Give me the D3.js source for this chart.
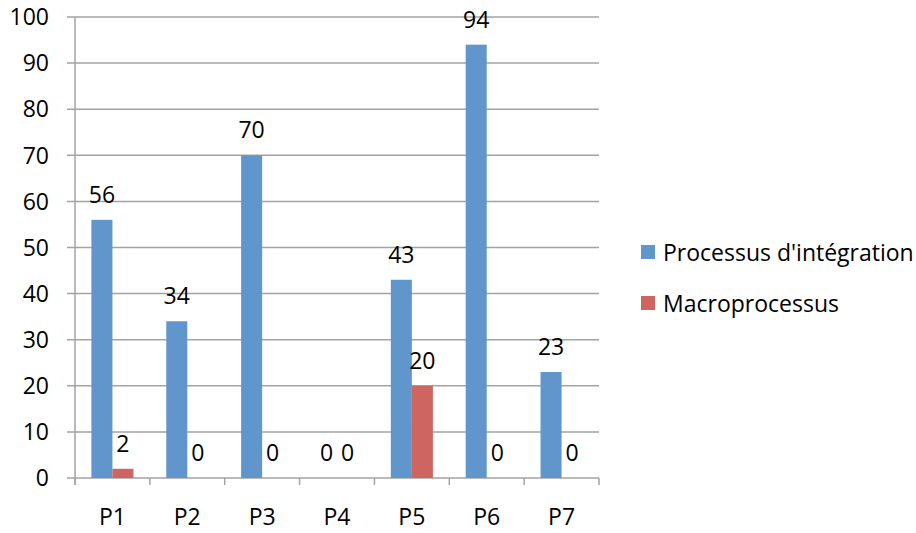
<!DOCTYPE html>
<html><head><meta charset="utf-8">
<script src="https://cdn.jsdelivr.net/npm/d3@7"></script>
<style>
body{margin:0;background:#fff;}
text{font-family:"Open Sans",sans-serif;fill:#000;}
</style></head>
<body>
<svg id="c" width="916" height="533"></svg>
<script>
const categories = ["P1","P2","P3","P4","P5","P6","P7"];
const seriesNames = ["Processus d'intégration","Macroprocessus"];
const integration = [56,34,70,0,43,94,23];
const macro = [2,0,0,0,20,0,0];
const yTicks = [0,10,20,30,40,50,60,70,80,90,100];
const colors = ["#6096CB","#CF6560"];

(function(){
const svg = d3.select("#c");
const pLeft=75, pRight=599, pTop=17, pBottom=478;
const x = d3.scaleBand().domain(categories).range([pLeft,pRight]).paddingInner(0).paddingOuter(0);
const inner = d3.scaleBand().domain([0,1]).range([0,x.bandwidth()]).paddingInner(0).paddingOuter(0.78);
const y = d3.scaleLinear().domain([0,100]).range([pBottom,pTop]);
const fs = 23;

svg.append("g").selectAll("line").data(yTicks).join("line")
  .attr("x1",pLeft-8).attr("x2",pRight).attr("y1",d=>y(d)).attr("y2",d=>y(d))
  .attr("stroke","#A3A3A3").attr("stroke-width",1.5);
svg.append("line").attr("x1",pLeft).attr("x2",pLeft).attr("y1",pTop).attr("y2",pBottom+7)
  .attr("stroke","#A3A3A3").attr("stroke-width",1.5);
svg.append("g").selectAll("line").data(categories.concat(["end"])).join("line")
  .attr("x1",(d,i)=>pLeft+i*x.step()).attr("x2",(d,i)=>pLeft+i*x.step())
  .attr("y1",pBottom).attr("y2",pBottom+7).attr("stroke","#A3A3A3").attr("stroke-width",1.5);
svg.append("g").selectAll("text").data(yTicks).join("text")
  .attr("x",pLeft-26).attr("y",d=>y(d)).attr("dy","0.36em").attr("text-anchor","end")
  .attr("font-size",fs).text(d=>d);
svg.append("g").selectAll("text").data(categories).join("text")
  .attr("x",d=>x(d)+x.bandwidth()/2).attr("y",525).attr("text-anchor","middle")
  .attr("font-size",fs).text(d=>d);

const series = [integration, macro];
series.forEach((vals,si)=>{
  const g = svg.append("g");
  g.selectAll("rect").data(vals).join("rect")
    .attr("x",(d,i)=>x(categories[i])+inner(si)).attr("width",inner.bandwidth())
    .attr("y",d=>y(d)).attr("height",d=>pBottom-y(d)).attr("fill",colors[si]);
  g.selectAll("text").data(vals).join("text")
    .attr("x",(d,i)=>x(categories[i])+inner(si)+inner.bandwidth()/2)
    .attr("y",d=>y(d)-17).attr("text-anchor","middle").attr("font-size",fs).text(d=>d);
});

const lg = svg.append("g");
seriesNames.forEach((n,i)=>{
  lg.append("rect").attr("x",641).attr("y",245+i*51).attr("width",14).attr("height",14).attr("fill",colors[i]);
  lg.append("text").attr("x",663).attr("y",261+i*51).attr("font-size",fs).text(n);
});
})();
</script>
</body></html>
